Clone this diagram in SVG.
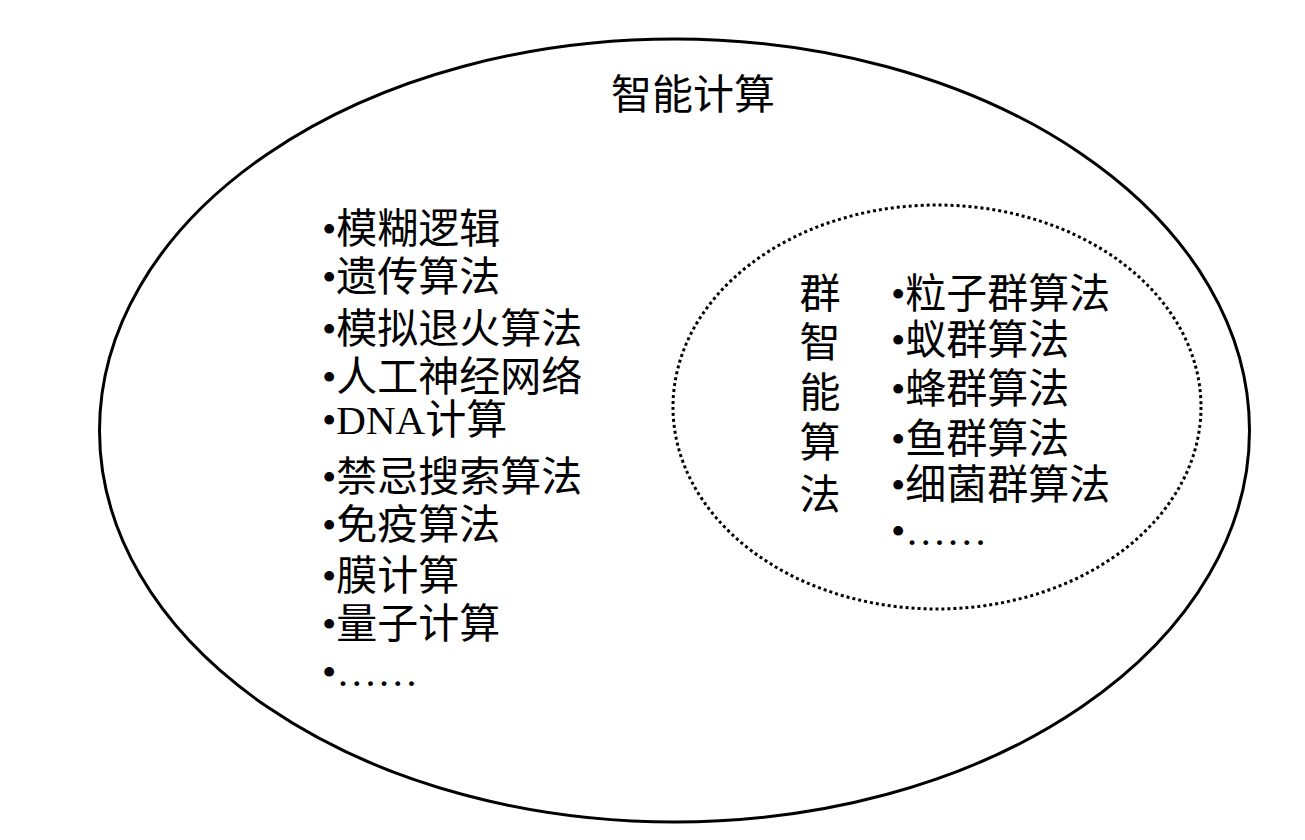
<svg xmlns="http://www.w3.org/2000/svg" width="1305" height="840" viewBox="0 0 1305 840">
<style>
text { font-family: "Liberation Serif", "Noto Sans CJK SC", serif; font-size: 41px; fill: #000; }
.outer { fill: none; stroke: #000; stroke-width: 3; }
.inner { fill: none; stroke: #000; stroke-width: 3; stroke-dasharray: 3 3; }
.vc { text-anchor: middle; }
</style>
<rect x="0" y="0" width="1305" height="840" fill="#fff"/>
<g id="intelligent-computing">
  <ellipse class="outer" cx="674.5" cy="430.5" rx="575" ry="391.5"/>
  <text x="611" y="109">智能计算</text>
</g>
<g id="left-list">
  <text x="322" y="243">•模糊逻辑</text>
  <text x="322" y="291">•遗传算法</text>
  <text x="322" y="343">•模拟退火算法</text>
  <text x="322" y="391">•人工神经网络</text>
  <text x="322" y="434">•DNA计算</text>
  <text x="322" y="491">•禁忌搜索算法</text>
  <text x="322" y="539">•免疫算法</text>
  <text x="322" y="590">•膜计算</text>
  <text x="322" y="638">•量子计算</text>
  <text x="322" y="686">•……</text>
</g>
<g id="swarm-intelligence">
  <ellipse class="inner" cx="937" cy="407" rx="264" ry="202"/>
  <g id="swarm-label">
    <text class="vc" x="820" y="308">群</text>
    <text class="vc" x="820" y="357">智</text>
    <text class="vc" x="820" y="407">能</text>
    <text class="vc" x="820" y="457">算</text>
    <text class="vc" x="820" y="509">法</text>
  </g>
  <g id="swarm-list">
    <text x="891" y="308">•粒子群算法</text>
    <text x="891" y="354">•蚁群算法</text>
    <text x="891" y="403">•蜂群算法</text>
    <text x="891" y="453">•鱼群算法</text>
    <text x="891" y="499">•细菌群算法</text>
    <text x="891" y="545">•……</text>
  </g>
</g>
<g id="connectors"/>
</svg>
